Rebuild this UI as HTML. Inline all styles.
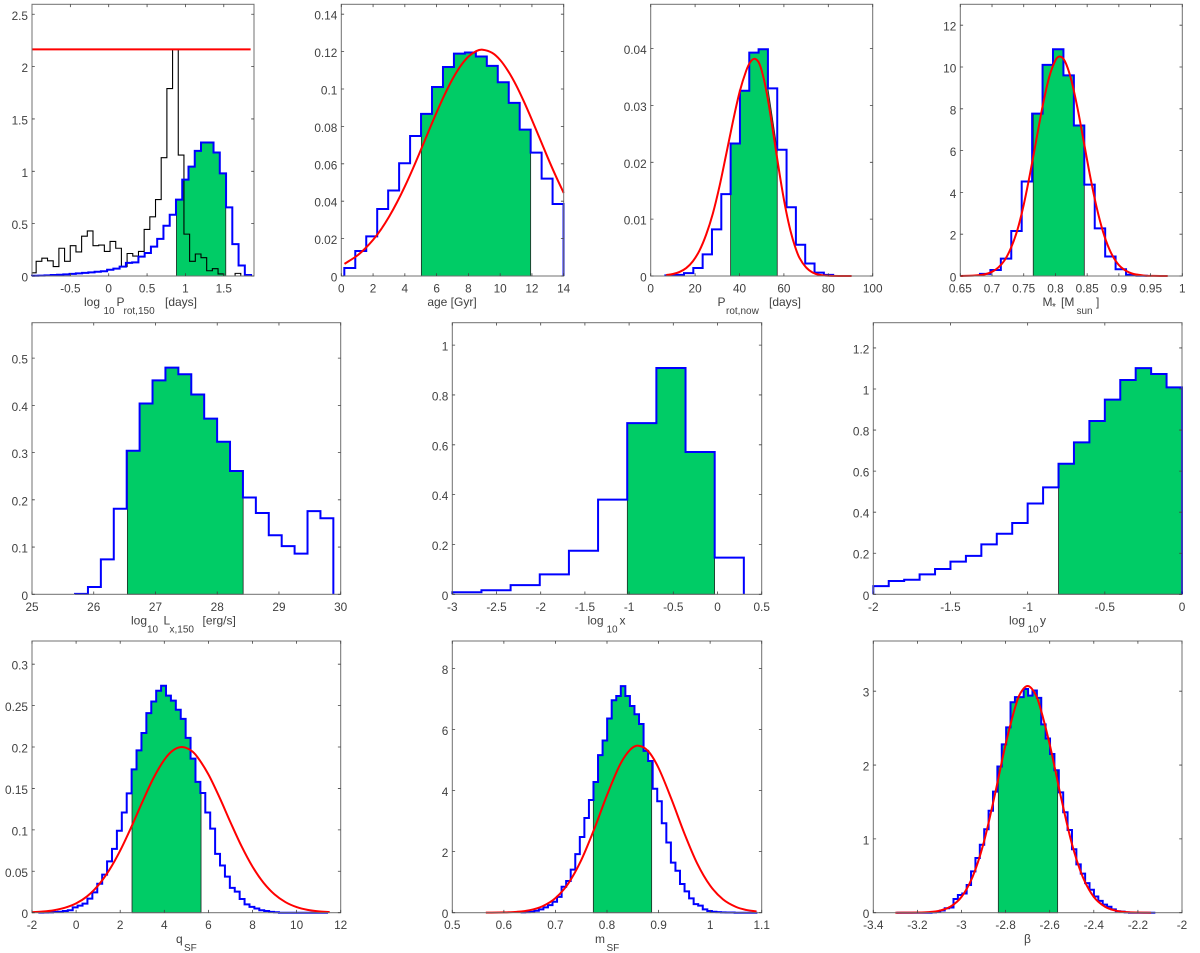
<!DOCTYPE html>
<html lang="en">
<head>
<meta charset="utf-8">
<title>Posterior histograms</title>
<style>
html,body{margin:0;padding:0;background:#fff;}
svg{display:block;}
text{font-family:"Liberation Sans",sans-serif;fill:#404040;}
.lab{font-size:12px;}
.sub{font-size:10px;}
.tick{font-size:11.8px;}
</style>
</head>
<body>
<svg id="figure" xmlns="http://www.w3.org/2000/svg" width="1200" height="953" viewBox="0 0 1200 953">
<rect x="0" y="0" width="1200" height="953" fill="#ffffff"/>
<g id="p1"></g>
<g id="p2"></g>
<g id="p3"></g>
<g id="p4"></g>
<g id="p5"></g>
<g id="p6"></g>
<g id="p7"></g>
<g id="p8"></g>
<g id="p9"></g>
<g id="p10"></g>

<g>
<text class="lab" x="84" y="306">log</text>
<text class="sub" x="103.5" y="314">10</text>
<text class="lab" x="116.5" y="306">P</text>
<text class="sub" x="123.5" y="314">rot,150</text>
<text class="lab" x="165" y="306">[days]</text>

<text class="lab" x="452" y="306" text-anchor="middle">age [Gyr]</text>

<text class="lab" x="717.5" y="306">P</text>
<text class="sub" x="726" y="314">rot,now</text>
<text class="lab" x="769" y="306">[days]</text>

<text class="lab" x="1042.5" y="306">M</text>
<text class="sub" x="1052" y="310">*</text>
<text class="lab" x="1061" y="306">[M</text>
<text class="sub" x="1076.5" y="314">sun</text>
<text class="lab" x="1096" y="306">]</text>

<text class="lab" x="131" y="624.5">log</text>
<text class="sub" x="147" y="632.5">10</text>
<text class="lab" x="163.5" y="624.5">L</text>
<text class="sub" x="169.5" y="632.5">x,150</text>
<text class="lab" x="202.5" y="624.5">[erg/s]</text>

<text class="lab" x="587.5" y="624.5">log</text>
<text class="sub" x="606.5" y="632.5">10</text>
<text class="lab" x="619.5" y="624.5">x</text>

<text class="lab" x="1009" y="624.5">log</text>
<text class="sub" x="1027.5" y="632.5">10</text>
<text class="lab" x="1040" y="624.5">y</text>

<text class="lab" x="176" y="943">q</text>
<text class="sub" x="184" y="951">SF</text>

<text class="lab" x="595" y="943">m</text>
<text class="sub" x="606.5" y="951">SF</text>

<text class="lab" x="1024" y="943" style="font-family:'Liberation Sans','DejaVu Sans',sans-serif">β</text>
</g>
</svg>
<script>
// ---- Panel 1: log10 Prot,150 ----
const p1XTicks = [-0.5, 0, 0.5, 1, 1.5];
const p1YTicks = [0, 0.5, 1, 1.5, 2, 2.5];
const p1BlueStart = -1.0;
const p1BlueWidth = 0.0816;
const p1Blue = [0.002,0.004,0.006,0.01,0.012,0.015,0.02,0.025,0.03,0.035,0.04,0.045,0.06,0.07,0.09,0.125,0.13,0.185,0.22,0.28,0.355,0.48,0.585,0.73,0.92,1.045,1.195,1.275,1.275,1.18,0.98,0.655,0.305,0.1,0.01];
const p1BlackStart = -1.02;
const p1BlackWidth = 0.0741;
const p1Black = [0.03,0.14,0.17,0.145,0.09,0.265,0.14,0.29,0.23,0.38,0.43,0.29,0.295,0.235,0.33,0.265,0.09,0.215,0.19,0.235,0.445,0.565,0.73,1.13,1.79,2.165,1.155,0.4,0.14,0.21,0.175,0.05,0.07,0.02,0,0,0.025,0];
const p1Interval = [0.883, 1.526];
const p1RedX = [-1.0, 1.85];
const p1RedY = [2.165, 2.165];

// ---- Panel 2: age ----
const p2XTicks = [0, 2, 4, 6, 8, 10, 12, 14];
const p2YTicks = [0, 0.02, 0.04, 0.06, 0.08, 0.1, 0.12, 0.14];
const p2BlueStart = 0.19;
const p2BlueWidth = 0.69;
const p2Blue = [0.0043,0.0134,0.0212,0.0358,0.0457,0.0603,0.0749,0.0867,0.1011,0.1118,0.1189,0.1195,0.1174,0.1124,0.1036,0.0926,0.0783,0.066,0.0521,0.0385];
const p2Interval = [5.04, 11.92];
const p2RedX = [0.2,1,1.5,2,2.5,3,3.5,4,4.5,5,5.5,6,6.5,7,7.5,8,8.5,8.9,9.5,10,10.5,11,11.5,12,12.5,13,13.5,14];
const p2RedY = [0.0065,0.0109,0.0147,0.0193,0.0249,0.0316,0.0393,0.0479,0.0573,0.0673,0.0775,0.0875,0.0969,0.1053,0.1122,0.1173,0.1203,0.121,0.1193,0.1155,0.1096,0.1021,0.0932,0.0835,0.0734,0.0632,0.0535,0.0444];

// ---- Panel 3: Prot,now ----
const p3XTicks = [0, 20, 40, 60, 80, 100];
const p3YTicks = [0, 0.01, 0.02, 0.03, 0.04];
const p3BlueStart = 6.6;
const p3BlueWidth = 4.2;
const p3Blue = [0.0001,0.0002,0.0005,0.0014,0.0038,0.0082,0.0144,0.0233,0.0326,0.0393,0.0399,0.033,0.0222,0.0121,0.0055,0.0022,0.0006,0.0002];
const p3Interval = [36.0, 57.0];
const p3RedX = [7,10,13,16,19,22,25,28,31,34,37,40,43,45,47,49,51,53,55,57,59,61,63,65,67,70,73,76,80,90.5];
const p3RedY = [0.00016,0.00035,0.00072,0.0014,0.0026,0.0045,0.0073,0.011,0.0158,0.0214,0.0271,0.0323,0.0361,0.0377,0.0382,0.0373,0.0346,0.0306,0.0257,0.0206,0.0157,0.0114,0.0079,0.0052,0.0032,0.0015,0.0006,0.0002,0.00005,0];

// ---- Panel 4: stellar mass ----
const p4XTicks = [0.65, 0.7, 0.75, 0.8, 0.85, 0.9, 0.95, 1];
const p4YTicks = [0, 2, 4, 6, 8, 10, 12];
const p4BlueStart = 0.681;
const p4BlueWidth = 0.01645;
const p4Blue = [0.1,0.29,0.83,2.15,4.52,7.77,10.1,10.85,9.6,7.2,4.37,2.28,0.93,0.32,0.06,0.015];
const p4Interval = [0.765, 0.8455];
const p4RedX = [0.65,0.67,0.68,0.69,0.7,0.71,0.72,0.73,0.74,0.75,0.76,0.77,0.78,0.79,0.8,0.807,0.815,0.825,0.835,0.845,0.855,0.865,0.875,0.885,0.895,0.905,0.92,0.94,0.955,0.977];
const p4RedY = [0,0.016,0.04,0.09,0.2,0.41,0.76,1.35,2.2,3.41,4.9,6.54,8.16,9.5,10.32,10.5,10.27,9.38,8,6.37,4.73,3.28,2.12,1.28,0.72,0.38,0.126,0.02,0.005,0];

// ---- Panel 5: log10 Lx,150 ----
const p5XTicks = [25, 26, 27, 28, 29, 30];
const p5YTicks = [0, 0.1, 0.2, 0.3, 0.4, 0.5];
const p5BlueStart = 25.697;
const p5BlueWidth = 0.2092;
const p5Blue = [0.001,0.0155,0.074,0.181,0.304,0.404,0.453,0.48,0.466,0.423,0.372,0.323,0.261,0.205,0.172,0.125,0.102,0.086,0.176,0.161];
const p5Interval = [26.545, 28.42];

// ---- Panel 6: log10 x ----
const p6XTicks = [-3, -2.5, -2, -1.5, -1, -0.5, 0, 0.5];
const p6YTicks = [0, 0.2, 0.4, 0.6, 0.8, 1];
const p6BlueStart = -3.0;
const p6BlueWidth = 0.3298;
const p6Blue = [0.008,0.016,0.037,0.08,0.175,0.38,0.687,0.908,0.571,0.147];
const p6Interval = [-1.02, -0.033];

// ---- Panel 7: log10 y ----
const p7XTicks = [-2, -1.5, -1, -0.5, 0];
const p7YTicks = [0, 0.2, 0.4, 0.6, 0.8, 1, 1.2];
const p7BlueStart = -2.0;
const p7BlueWidth = 0.1;
const p7Blue = [0.04,0.065,0.071,0.097,0.123,0.159,0.187,0.243,0.295,0.347,0.442,0.521,0.636,0.74,0.844,0.948,1.044,1.102,1.073,1.008];
const p7Interval = [-0.8, 0];

// ---- Panel 8: qSF ----
const p8XTicks = [-2, 0, 2, 4, 6, 8, 10, 12];
const p8YTicks = [0, 0.05, 0.1, 0.15, 0.2, 0.25, 0.3];
const p8BlueStart = -1.713;
const p8BlueWidth = 0.2227;
const p8Blue = [0.0001,0.0002,0.0004,0.0008,0.0012,0.002,0.003,0.0065,0.0085,0.011,0.017,0.0245,0.035,0.046,0.062,0.077,0.099,0.121,0.144,0.173,0.196,0.217,0.241,0.255,0.268,0.274,0.262,0.256,0.245,0.234,0.211,0.186,0.158,0.1445,0.121,0.1015,0.071,0.057,0.0435,0.03,0.0254,0.0165,0.01,0.007,0.005,0.003,0.002,0.001,0.0006,0,0,0,0,0,0,0,0,0,0];
const p8Interval = [2.536, 5.666];
const p8RedX = [-2,-1.5,-1,-0.5,0,0.5,1,1.5,2,2.5,3,3.5,4,4.4,4.8,5.2,5.5,6,6.5,7,7.5,8,8.5,9,9.5,10,10.5,11,11.5];
const p8RedY = [0.0006,0.0014,0.003,0.006,0.0112,0.0198,0.0329,0.0513,0.075,0.1032,0.1334,0.162,0.1846,0.196,0.2,0.196,0.188,0.167,0.1394,0.1092,0.0804,0.0556,0.0361,0.0221,0.0127,0.0068,0.0034,0.0016,0.0007];

// ---- Panel 9: mSF ----
const p9XTicks = [0.5, 0.6, 0.7, 0.8, 0.9, 1, 1.1];
const p9YTicks = [0, 2, 4, 6, 8];
const p9BlueStart = 0.6325;
const p9BlueWidth = 0.00883;
const p9Blue = [0.01,0.02,0.03,0.065,0.11,0.175,0.25,0.36,0.52,0.85,1.04,1.41,1.92,2.48,3.1,3.69,4.28,5.16,5.64,6.36,6.96,7.1,7.42,7.1,6.77,6.5,6.18,5.3,4.97,4.06,3.65,2.93,2.3,1.64,1.375,0.94,0.7,0.47,0.28,0.23,0.11,0.055,0.03,0.02,0.01,0.005,0.005,0,0,0,0,0];
const p9Interval = [0.7735, 0.8866];
const p9RedX = [0.565,0.6,0.625,0.65,0.675,0.7,0.725,0.75,0.775,0.8,0.825,0.845,0.861,0.88,0.9,0.925,0.95,0.975,1,1.025,1.05,1.07,1.09];
const p9RedY = [0.0015,0.009,0.029,0.083,0.212,0.477,0.96,1.72,2.73,3.85,4.84,5.34,5.47,5.29,4.74,3.72,2.6,1.61,0.888,0.437,0.19,0.09,0.04];

// ---- Panel 10: beta ----
const p10XTicks = [-3.4, -3.2, -3, -2.8, -2.6, -2.4, -2.2, -2];
const p10YTicks = [0, 1, 2, 3];
const p10BlueStart = -3.295;
const p10BlueWidth = 0.0199;
const p10Blue = [0,0,0,0,0,0,0,0,0.005,0.015,0.03,0.06,0.07,0.185,0.24,0.26,0.375,0.56,0.74,0.92,1.13,1.38,1.64,1.98,2.28,2.51,2.85,2.92,2.92,3.03,2.94,3.01,2.91,2.55,2.36,2.15,1.93,1.63,1.36,1.12,0.86,0.655,0.53,0.4,0.31,0.22,0.16,0.11,0.08,0.045,0.02,0.015,0.005,0,0,0,0,0,0];
const p10Interval = [-2.833, -2.564];
const p10RedX = [-3.3,-3.2,-3.15,-3.1,-3.05,-3,-2.95,-2.9,-2.85,-2.8,-2.75,-2.725,-2.7,-2.675,-2.65,-2.6,-2.55,-2.5,-2.45,-2.4,-2.35,-2.3,-2.25,-2.2,-2.14];
const p10RedY = [0,0.002,0.0076,0.027,0.082,0.214,0.483,0.94,1.58,2.28,2.85,3.01,3.07,3.01,2.85,2.28,1.58,0.94,0.483,0.214,0.082,0.027,0.0076,0.002,0];

const NS = 'http://www.w3.org/2000/svg';

function makeScale(dMin, dMax, pMin, pMax) {
  return function (v) { return pMin + (v - dMin) / (dMax - dMin) * (pMax - pMin); };
}

function stepPoints(start, width, values) {
  const pts = [[start, 0]];
  values.forEach(function (v, i) {
    pts.push([start + i * width, v]);
    pts.push([start + (i + 1) * width, v]);
  });
  pts.push([start + values.length * width, 0]);
  return pts;
}

function stepPath(start, width, values, sx, sy, xMin) {
  return stepPoints(start, width, values).map(function (p, i) {
    return (i ? 'L' : 'M') + Math.max(sx(xMin), sx(p[0])).toFixed(2) + ' ' + sy(p[1]).toFixed(2);
  }).join('');
}

function intervalPath(start, width, values, lo, hi, sx, sy) {
  const valueAt = function (x) {
    const i = Math.min(values.length - 1, Math.max(0, Math.floor((x - start) / width + 1e-9)));
    return values[i];
  };
  let d = 'M' + sx(lo).toFixed(2) + ' ' + sy(0).toFixed(2) + 'L' + sx(lo).toFixed(2) + ' ' + sy(valueAt(lo)).toFixed(2);
  for (let i = 0; i <= values.length; i++) {
    const e = start + i * width;
    if (e > lo && e < hi) {
      d += 'L' + sx(e).toFixed(2) + ' ' + sy(values[i - 1]).toFixed(2);
      d += 'L' + sx(e).toFixed(2) + ' ' + sy(values[Math.min(i, values.length - 1)]).toFixed(2);
    }
  }
  d += 'L' + sx(hi).toFixed(2) + ' ' + sy(valueAt(hi - 1e-9)).toFixed(2);
  d += 'L' + sx(hi).toFixed(2) + ' ' + sy(0).toFixed(2) + 'Z';
  return d;
}

function curvePath(xs, ys, sx, sy) {
  const P = xs.map(function (x, i) { return [sx(x), sy(ys[i])]; });
  let d = 'M' + P[0][0].toFixed(2) + ' ' + P[0][1].toFixed(2);
  for (let i = 0; i < P.length - 1; i++) {
    const p0 = P[Math.max(0, i - 1)], p1 = P[i], p2 = P[i + 1], p3 = P[Math.min(P.length - 1, i + 2)];
    const h = p2[0] - p1[0];
    const m1 = (p2[1] - p0[1]) / (p2[0] - p0[0]);
    const m2 = (p3[1] - p1[1]) / (p3[0] - p1[0]);
    d += 'C' + (p1[0] + h / 3).toFixed(2) + ' ' + (p1[1] + m1 * h / 3).toFixed(2) + ' ' +
         (p2[0] - h / 3).toFixed(2) + ' ' + (p2[1] - m2 * h / 3).toFixed(2) + ' ' +
         p2[0].toFixed(2) + ' ' + p2[1].toFixed(2);
  }
  return d;
}

function drawPanel(id, box, xLim, yLim, xTicks, yTicks, blueStart, blueWidth, blue, interval, redX, redY, blackStart, blackWidth, black) {
  const g = document.getElementById(id);
  const sx = makeScale(xLim[0], xLim[1], box[0], box[2]);
  const sy = makeScale(yLim[0], yLim[1], box[3], box[1]);

  const area = document.createElementNS(NS, 'path');
  
  
  area.setAttribute('d', intervalPath(blueStart, blueWidth, blue, interval[0], interval[1], sx, sy));
  area.setAttribute('fill', '#00cc66');
  area.setAttribute('stroke', '#222222');
  area.setAttribute('stroke-width', '0.8');
  g.appendChild(area);

  if (black) {
    const bk = document.createElementNS(NS, 'path');
    
    
    bk.setAttribute('d', stepPath(blackStart, blackWidth, black, sx, sy, xLim[0]));
    bk.setAttribute('fill', 'none');
    bk.setAttribute('stroke', '#000000');
    bk.setAttribute('stroke-width', '1.1');
    g.appendChild(bk);
  }

  const bl = document.createElementNS(NS, 'path');
  
  
  bl.setAttribute('d', stepPath(blueStart, blueWidth, blue, sx, sy, xLim[0]));
  bl.setAttribute('fill', 'none');
  bl.setAttribute('stroke', '#0000ff');
  bl.setAttribute('stroke-width', '2');
  bl.setAttribute('stroke-linejoin', 'miter');
  g.appendChild(bl);

  if (redX) {
    const rd = document.createElementNS(NS, 'path');
    
    
    rd.setAttribute('d', curvePath(redX, redY, sx, sy));
    rd.setAttribute('fill', 'none');
    rd.setAttribute('stroke', '#ff0000');
    rd.setAttribute('stroke-width', '2');
    g.appendChild(rd);
  }

  const frame = document.createElementNS(NS, 'rect');
  
  
  frame.setAttribute('x', box[0]);
  frame.setAttribute('y', box[1]);
  frame.setAttribute('width', box[2] - box[0]);
  frame.setAttribute('height', box[3] - box[1]);
  frame.setAttribute('fill', 'none');
  frame.setAttribute('stroke', '#707070');
  frame.setAttribute('stroke-width', '1');
  g.appendChild(frame);

  xTicks.forEach(function (t) {
    const x = sx(t);
    const tk = document.createElementNS(NS, 'path');
    
    
    tk.setAttribute('d', 'M' + x.toFixed(2) + ' ' + box[3] + 'v-2.8M' + x.toFixed(2) + ' ' + box[1] + 'v2.8');
    tk.setAttribute('stroke', '#404040');
    tk.setAttribute('stroke-width', '0.8');
    g.appendChild(tk);
    const lb = document.createElementNS(NS, 'text');
    
    
    lb.setAttribute('class', 'tick');
    lb.setAttribute('x', x.toFixed(2));
    lb.setAttribute('y', (box[3] + 16.5).toFixed(2));
    lb.setAttribute('text-anchor', 'middle');
    lb.textContent = String(t);
    g.appendChild(lb);
  });

  yTicks.forEach(function (t) {
    const y = sy(t);
    const tk = document.createElementNS(NS, 'path');
    
    
    tk.setAttribute('d', 'M' + box[0] + ' ' + y.toFixed(2) + 'h2.8M' + box[2] + ' ' + y.toFixed(2) + 'h-2.8');
    tk.setAttribute('stroke', '#404040');
    tk.setAttribute('stroke-width', '0.8');
    g.appendChild(tk);
    const lb = document.createElementNS(NS, 'text');
    
    
    lb.setAttribute('class', 'tick');
    lb.setAttribute('x', (box[0] - 4).toFixed(2));
    lb.setAttribute('y', (y + 5.5).toFixed(2));
    lb.setAttribute('text-anchor', 'end');
    lb.textContent = String(t);
    g.appendChild(lb);
  });
}

drawPanel('p1', [32, 4.3, 254, 276], [-1.0, 1.894], [0, 2.595], p1XTicks, p1YTicks, p1BlueStart, p1BlueWidth, p1Blue, p1Interval, p1RedX, p1RedY, p1BlackStart, p1BlackWidth, p1Black);
drawPanel('p2', [341.3, 4.3, 563.7, 276], [0, 14], [0, 0.1453], p2XTicks, p2YTicks, p2BlueStart, p2BlueWidth, p2Blue, p2Interval, p2RedX, p2RedY);
drawPanel('p3', [650.7, 4.3, 872.7, 276], [0, 100], [0, 0.0478], p3XTicks, p3YTicks, p3BlueStart, p3BlueWidth, p3Blue, p3Interval, p3RedX, p3RedY);
drawPanel('p4', [960.3, 4.3, 1182.3, 276], [0.65, 1], [0, 13], p4XTicks, p4YTicks, p4BlueStart, p4BlueWidth, p4Blue, p4Interval, p4RedX, p4RedY);
drawPanel('p5', [32, 322.7, 340.7, 594.3], [25, 30], [0, 0.575], p5XTicks, p5YTicks, p5BlueStart, p5BlueWidth, p5Blue, p5Interval);
drawPanel('p6', [452.3, 322.7, 761.7, 594.3], [-3, 0.5], [0, 1.09], p6XTicks, p6YTicks, p6BlueStart, p6BlueWidth, p6Blue, p6Interval);
drawPanel('p7', [873.3, 322.7, 1182, 594.3], [-2, 0], [0, 1.323], p7XTicks, p7YTicks, p7BlueStart, p7BlueWidth, p7Blue, p7Interval);
drawPanel('p8', [32, 641, 340.7, 912.7], [-2, 12], [0, 0.328], p8XTicks, p8YTicks, p8BlueStart, p8BlueWidth, p8Blue, p8Interval, p8RedX, p8RedY);
drawPanel('p9', [452.3, 641, 761.7, 912.7], [0.5, 1.1], [0, 8.9], p9XTicks, p9YTicks, p9BlueStart, p9BlueWidth, p9Blue, p9Interval, p9RedX, p9RedY);
drawPanel('p10', [873.3, 641, 1182, 912.7], [-3.4, -2], [0, 3.68], p10XTicks, p10YTicks, p10BlueStart, p10BlueWidth, p10Blue, p10Interval, p10RedX, p10RedY);
</script>
</body>
</html>
